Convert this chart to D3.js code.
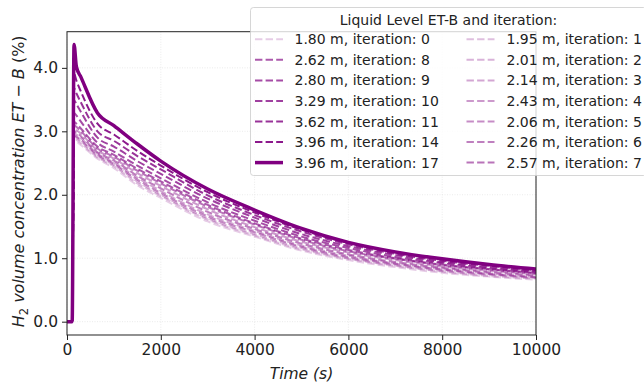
<!DOCTYPE html>
<html>
<head>
<meta charset="utf-8">
<script src="https://cdn.jsdelivr.net/npm/d3@7"></script>
<style>
  body { margin: 0; background: #fff; }
  svg { font-family: "DejaVu Sans", sans-serif; }
</style>
</head>
<body>
<div id="chart-area"></div>
<script>
// time (s) at which every curve is sampled
const times = [0, 110, 150, 200, 300, 650, 1000, 1500, 2000, 3000, 4000, 5000, 6000, 7000, 8000, 9000, 10000];

// H2 concentration (%) per iteration
const it0  = [0, 0, 2.86, 2.84, 2.78, 2.57, 2.42, 2.15, 1.95, 1.58, 1.34, 1.12, 0.97, 0.86, 0.77, 0.71, 0.66];
const it1  = [0, 0, 2.89, 2.87, 2.81, 2.59, 2.45, 2.18, 1.98, 1.61, 1.36, 1.14, 0.99, 0.88, 0.79, 0.72, 0.68];
const it2  = [0, 0, 2.92, 2.90, 2.84, 2.61, 2.47, 2.21, 2.00, 1.63, 1.38, 1.16, 1.00, 0.89, 0.80, 0.74, 0.69];
const it3  = [0, 0, 2.97, 2.95, 2.89, 2.65, 2.51, 2.27, 2.06, 1.69, 1.43, 1.20, 1.04, 0.92, 0.83, 0.76, 0.71];
const it4  = [0, 0, 3.05, 3.02, 2.96, 2.70, 2.57, 2.34, 2.14, 1.77, 1.49, 1.26, 1.09, 0.97, 0.87, 0.80, 0.75];
const it5  = [0, 0, 2.94, 2.92, 2.86, 2.63, 2.49, 2.24, 2.03, 1.66, 1.41, 1.18, 1.02, 0.91, 0.82, 0.75, 0.70];
const it6  = [0, 0, 3.00, 2.98, 2.92, 2.67, 2.54, 2.30, 2.10, 1.73, 1.46, 1.23, 1.06, 0.94, 0.85, 0.78, 0.73];
const it7  = [0, 0, 3.10, 3.07, 3.00, 2.73, 2.60, 2.38, 2.18, 1.81, 1.53, 1.29, 1.11, 0.99, 0.89, 0.82, 0.76];
const it8  = [0, 0, 3.15, 3.12, 3.04, 2.76, 2.63, 2.41, 2.21, 1.84, 1.55, 1.31, 1.13, 1.00, 0.90, 0.83, 0.77];
const it9  = [0, 0, 3.29, 3.25, 3.15, 2.82, 2.68, 2.46, 2.26, 1.88, 1.59, 1.34, 1.16, 1.02, 0.92, 0.84, 0.78];
const it10 = [0, 0, 3.49, 3.43, 3.30, 2.90, 2.76, 2.53, 2.33, 1.94, 1.64, 1.38, 1.19, 1.05, 0.94, 0.86, 0.80];
const it11 = [0, 0, 3.68, 3.60, 3.45, 3.00, 2.85, 2.61, 2.40, 1.99, 1.68, 1.42, 1.22, 1.07, 0.96, 0.88, 0.81];
const it14 = [0, 0, 3.91, 3.80, 3.62, 3.12, 2.95, 2.69, 2.46, 2.04, 1.72, 1.45, 1.24, 1.09, 0.98, 0.89, 0.82];
const it17 = [0, 0, 4.37, 4.02, 3.85, 3.29, 3.09, 2.80, 2.53, 2.09, 1.76, 1.47, 1.25, 1.10, 0.99, 0.90, 0.83];

const iterations = [0, 1, 2, 3, 4, 5, 6, 7, 8, 9, 10, 11, 14, 17];
const levels = ["1.80", "1.95", "2.01", "2.14", "2.43", "2.06", "2.26", "2.57", "2.62", "2.80", "3.29", "3.62", "3.96", "3.96"];
const curves = [it0, it1, it2, it3, it4, it5, it6, it7, it8, it9, it10, it11, it14, it17];
const opacities = [0.2, 0.25, 0.3, 0.35, 0.4, 0.45, 0.5, 0.55, 0.65, 0.7, 0.75, 0.8, 0.9, 1];

// legend order as in the figure (two columns)
const legendOrder = [0, 8, 9, 10, 11, 14, 17, 1, 2, 3, 4, 5, 6, 7];

const xTicks = [0, 2000, 4000, 6000, 8000, 10000];
const yTicks = [0, 1, 2, 3, 4];

const chartSize = {width: 644, height: 384};
const margin = {left: 67, right: 108, top: 31.7, bottom: 49};
const width = chartSize.width - margin.left - margin.right;
const height = chartSize.height - margin.top - margin.bottom;
const lineColor = "#800080";

const svg = d3.select("#chart-area").append("svg")
    .attr("width", chartSize.width)
    .attr("height", chartSize.height);

const x = d3.scaleLinear().domain([0, 10000]).range([0, width]);
const y = d3.scaleLinear().domain([-0.21, 4.57]).range([height, 0]);

const g = svg.append("g").attr("transform", `translate(${margin.left}, ${margin.top})`);

svg.append("defs").append("clipPath").attr("id", "clip")
    .append("rect").attr("width", width).attr("height", height);

// grid
g.append("g").selectAll("line").data(xTicks).enter().append("line")
    .attr("x1", d => x(d)).attr("x2", d => x(d))
    .attr("y1", 0).attr("y2", height)
    .attr("stroke", "#e6e6e6").attr("stroke-width", 0.8).attr("stroke-dasharray", "1,1.5");
g.append("g").selectAll("line").data(yTicks).enter().append("line")
    .attr("y1", d => y(d)).attr("y2", d => y(d))
    .attr("x1", 0).attr("x2", width)
    .attr("stroke", "#e6e6e6").attr("stroke-width", 0.8).attr("stroke-dasharray", "1,1.5");

// curves
const line = d3.line()
    .x((d, i) => x(times[i]))
    .y(d => y(d))
    .curve(d3.curveMonotoneX);

const lines = g.append("g").attr("clip-path", "url(#clip)");
curves.forEach((c, k) => {
    const solid = iterations[k] === 17;
    lines.append("path")
        .attr("d", line(c))
        .attr("fill", "none")
        .attr("stroke", lineColor)
        .attr("stroke-opacity", opacities[k])
        .attr("stroke-width", solid ? 3.5 : 2)
        .attr("stroke-dasharray", solid ? null : "7.4,3.2")
        .attr("stroke-linejoin", "round");
});

// axes
const xAxis = d3.axisBottom(x).tickValues(xTicks).tickFormat(d3.format("d")).tickSize(5).tickPadding(4);
const yAxis = d3.axisLeft(y).tickValues(yTicks).tickFormat(d3.format(".1f")).tickSize(5).tickPadding(4);

g.append("g").attr("class", "x-axis").attr("transform", `translate(0, ${height})`).call(xAxis);
g.append("g").attr("class", "y-axis").call(yAxis);
g.selectAll(".domain").remove();
g.selectAll(".tick line").attr("stroke", "#222").attr("stroke-width", 1);
g.selectAll(".tick text").attr("font-size", 15.5).attr("fill", "#222")
    .attr("font-family", "DejaVu Sans");

g.append("rect").attr("width", width).attr("height", height)
    .attr("fill", "none").attr("stroke", "#222").attr("stroke-width", 1);

g.append("text")
    .attr("x", width / 2).attr("y", height + 44)
    .attr("text-anchor", "middle").attr("font-size", 15.5)
    .attr("font-style", "italic").attr("fill", "#222")
    .text("Time (s)");

const yl = g.append("text")
    .attr("transform", `translate(-43, ${height / 2 - 2}) rotate(-90)`)
    .attr("text-anchor", "middle").attr("font-size", 16).attr("fill", "#222");
yl.append("tspan").attr("font-style", "italic").text("H");
yl.append("tspan").attr("font-size", 11.5).attr("dy", 4).text("2");
yl.append("tspan").attr("dy", -4).attr("font-style", "italic").text(" volume concentration ET \u2212 B");
yl.append("tspan").text(" (%)");

// legend
const legend = svg.append("g").attr("transform", "translate(250.5, 7.5)");
legend.append("rect")
    .attr("width", 396).attr("height", 168).attr("rx", 3)
    .attr("fill", "#fff").attr("fill-opacity", 0.8)
    .attr("stroke", "#ccc").attr("stroke-opacity", 0.8).attr("stroke-width", 1);
legend.append("text")
    .attr("x", 198).attr("y", 17)
    .attr("text-anchor", "middle").attr("font-size", 14).attr("fill", "#222")
    .text("Liquid Level ET-B and iteration:");

legendOrder.forEach((it, j) => {
    const k = iterations.indexOf(it);
    const col = j < 7 ? 0 : 1;
    const row = j % 7;
    const solid = it === 17;
    const cy = 31.8 + row * 20.55;
    const hx = col === 0 ? 4.5 : 216;
    const tx = col === 0 ? 44 : 256;
    legend.append("line")
        .attr("x1", hx).attr("x2", hx + 28)
        .attr("y1", cy).attr("y2", cy)
        .attr("stroke", lineColor).attr("stroke-opacity", opacities[k])
        .attr("stroke-width", solid ? 3.5 : 2)
        .attr("stroke-dasharray", solid ? null : "7.4,3.2");
    legend.append("text")
        .attr("x", tx).attr("y", cy + 5)
        .attr("font-size", 14).attr("fill", "#222")
        .text(`${levels[k]} m, iteration: ${it}`);
});
</script>
</body>
</html>
